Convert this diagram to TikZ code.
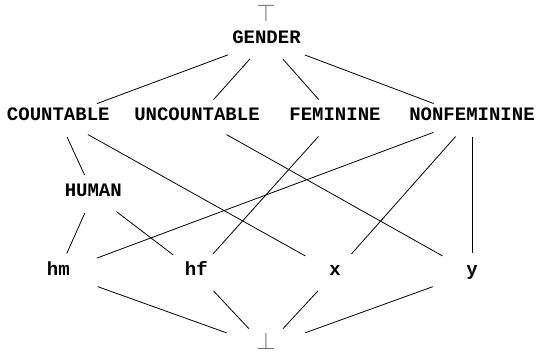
\documentclass[tikz,border=0pt]{standalone}
\usepackage{fontspec}
\newfontfamily\latfont{Liberation Mono}
\usetikzlibrary{shapes.geometric}
\definecolor{boundgray}{gray}{0.4}
\newcommand\ctr[1]{\makebox[0pt]{#1}}
\begin{document}
\begin{tikzpicture}[x=1pt,y=-1pt,
  lat/.style={ellipse, minimum width=116pt, minimum height=38pt, inner sep=0pt,
    text height=11pt, text depth=6pt,
    font=\latfont\bfseries\fontsize{19pt}{19pt}\selectfont},
  bound/.style={lat, text=boundgray},
  topsym/.style={inner sep=0pt, anchor=base, text=boundgray,
    font=\latfont\bfseries\fontsize{19pt}{19pt}\selectfont},
  link/.style={line width=0.8pt}]
\useasboundingbox (0,0) rectangle (536,354);
\node[topsym] (top) at (266,21) {\scalebox{1.4}{$\top$}};
\node[lat] (G)  at (266.5,40.5) {\ctr{GENDER}};
\node[lat] (C)  at (58.3,118)   {\ctr{COUNTABLE}};
\node[lat] (U)  at (197,118)    {\ctr{UNCOUNTABLE}};
\node[lat] (F)  at (335,118)    {\ctr{FEMININE}};
\node[lat] (N)  at (472,118)    {\ctr{NONFEMININE}};
\node[lat] (H)  at (93.3,194)   {\ctr{HUMAN}};
\node[lat] (hm) at (58.3,272.5) {\ctr{hm}};
\node[lat] (hf) at (196.3,272.5){\ctr{hf}};
\node[lat] (nx) at (335,272.5)  {\ctr{x}};
\node[lat] (ny) at (472,272.5)  {\ctr{y}};
\node[bound] (bot) at (266,347) {\ctr{\scalebox{1.4}{$\bot$}}};
\foreach \a/\b in {G/C,G/U,G/F,G/N,C/H,C/nx,U/ny,F/hf,N/hm,N/nx,N/ny,H/hm,H/hf,hm/bot,hf/bot,nx/bot,ny/bot}
  \draw[link] (\a) -- (\b);
\end{tikzpicture}
\end{document}
